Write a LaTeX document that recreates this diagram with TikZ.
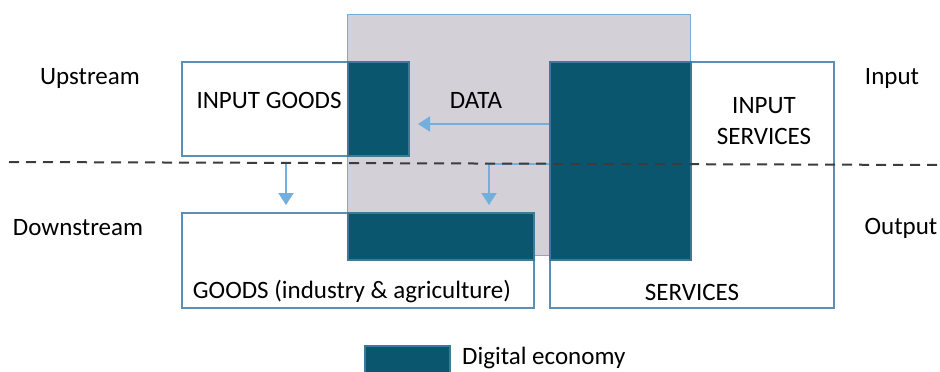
\documentclass[tikz,border=0pt]{standalone}
\usepackage{fontspec}
\setmainfont{Carlito}
\usepackage{xcolor}
\usetikzlibrary{positioning, arrows.meta}
\definecolor{DigiTeal}{HTML}{0B566F}
\definecolor{DigiEdge}{HTML}{3F7898}
\definecolor{BoxBlue}{HTML}{5E8DB6}
\definecolor{FlowBlue}{HTML}{72AFDD}
\definecolor{DataGrey}{HTML}{D3D0D8}
\definecolor{CutGrey}{HTML}{3C3C3C}
\tikzset{
  sector/.style={draw=BoxBlue, line width=2pt, fill=white, inner sep=0pt, anchor=north west},
  digital/.style={draw=DigiEdge, line width=2pt, fill=DigiTeal, inner sep=0pt, anchor=north west},
  flow/.style={draw=FlowBlue, line width=2pt, -{Triangle[length=12pt, width=15pt]}},
  lbl/.style={font=\fontsize{25}{31}\selectfont, inner sep=0pt, align=center}
}

\begin{document}
\begin{tikzpicture}[x=1pt, y=-1pt]
    \useasboundingbox (0,0) rectangle (940,372);
    \node[draw=FlowBlue, line width=1pt, fill=DataGrey, inner sep=0pt, anchor=north west,
          minimum width=343pt, minimum height=241pt] (datazone) at (347,14) {};
    \node[sector, minimum width=227pt, minimum height=94pt] (inputgoods) at (181,61) {};
    \node[sector, minimum width=284pt, minimum height=246pt] (services) at (549,61) {};
    \node[sector, minimum width=352pt, minimum height=95pt] (goods) at (181,212) {};
    \node[digital, minimum width=61pt, minimum height=94pt] (inputgoodsdig) at (347,61) {};
    \node[digital, minimum width=141pt, minimum height=198pt] (servicesdig) at (549,61) {};
    \node[digital, minimum width=186pt, minimum height=47pt] (goodsdig) at (347,212) {};

    \node[lbl] (inputgoodstxt) at (269,100) {INPUT GOODS};
    \node[lbl] (datatxt) at (476,100) {DATA};
    \node[lbl] (inputservtxt) at (764,121) {INPUT\\SERVICES};
    \node[lbl] (goodstxt) at (352,292) {GOODS (industry \& agriculture)};
    \node[lbl] (servtxt) at (692,292) {SERVICES};

    \node[lbl] (upstream) at (90,78) {Upstream};
    \node[lbl] (downstream) at (78,228) {Downstream};
    \node[lbl] (input) at (892,78) {Input};
    \node[lbl] (output) at (901,228) {Output};

    \coordinate (d1) at (549,124);
    \draw[flow] (d1) -- ([xshift=8pt]d1 -| inputgoodsdig.east);
    \coordinate (g1) at (286,162);
    \draw[flow, shorten >=7pt] (g1) -- (g1 |- goods.north);
    \coordinate (s1) at (549,164);
    \coordinate (g2) at (489,164);
    \draw[flow, shorten >=7pt] (s1) -- (g2) -- (g2 |- goods.north);

    \draw[CutGrey, line width=2pt, dash pattern=on 10pt off 7pt] (9,162) -- (940,165);

    \node[digital, minimum width=85pt, minimum height=35pt] (legendbox) at (364,345) {};
    \node[lbl, anchor=west, right=11pt of legendbox.west -| legendbox.east, yshift=6pt] (legendtxt) {Digital economy};
\end{tikzpicture}
\end{document}
